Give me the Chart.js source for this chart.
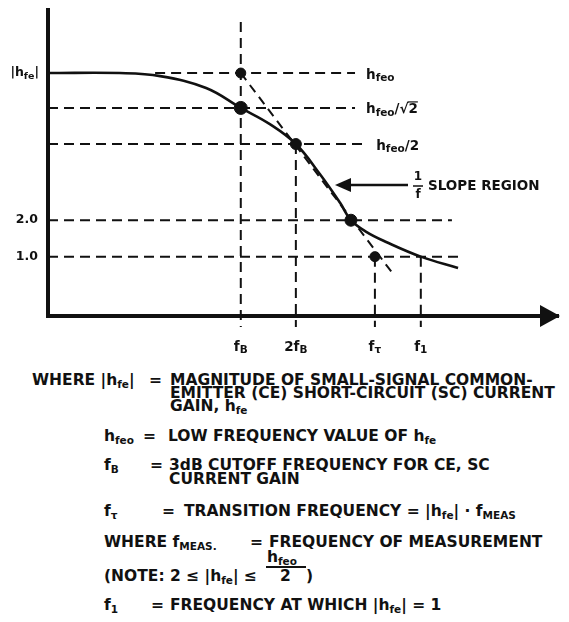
<!DOCTYPE html>
<html>
<head>
<meta charset="utf-8">
<script src="https://cdn.jsdelivr.net/npm/chart.js@4/dist/chart.umd.min.js"></script>
<style>
  html,body{margin:0;padding:0;background:#fff;}
  body{width:569px;height:622px;position:relative;overflow:hidden;}
  #c{position:absolute;left:0;top:0;}
  .t{position:absolute;font-family:"DejaVu Sans",sans-serif;font-weight:bold;font-size:15.5px;line-height:16px;white-space:nowrap;color:#111;}
  .t sub{font-size:10.5px;vertical-align:-3px;line-height:0;}
  .bar{position:absolute;border-top:2px solid #111;height:0;}
</style>
</head>
<body>
<canvas id="c" width="569" height="365"></canvas>

<div class="t" style="left:32px;top:372px">WHERE |h<sub>fe</sub>|</div>
<div class="t" style="left:149px;top:372px">=</div>
<div class="t" style="left:170px;top:372px">MAGNITUDE OF SMALL-SIGNAL COMMON-</div>
<div class="t" style="left:170px;top:385px">EMITTER (CE) SHORT-CIRCUIT (SC) CURRENT</div>
<div class="t" style="left:170px;top:398px">GAIN, h<sub>fe</sub></div>

<div class="t" style="left:104px;top:428px">h<sub>feo</sub></div>
<div class="t" style="left:143px;top:428px">=</div>
<div class="t" style="left:168px;top:428px">LOW FREQUENCY VALUE OF h<sub>fe</sub></div>

<div class="t" style="left:104px;top:457px">f<sub>B</sub></div>
<div class="t" style="left:150px;top:457px">=</div>
<div class="t" style="left:169px;top:457px">3dB CUTOFF FREQUENCY FOR CE, SC</div>
<div class="t" style="left:169px;top:471px">CURRENT GAIN</div>

<div class="t" style="left:104px;top:503px">f<sub>τ</sub></div>
<div class="t" style="left:162px;top:503px">=</div>
<div class="t" style="left:184px;top:503px">TRANSITION FREQUENCY = |h<sub>fe</sub>| · f<sub>MEAS</sub></div>

<div class="t" style="left:104px;top:534px">WHERE f<sub>MEAS.</sub></div>
<div class="t" style="left:250px;top:534px">=</div>
<div class="t" style="left:269px;top:534px">FREQUENCY OF MEASUREMENT</div>

<div class="t" style="left:104px;top:568px">(NOTE: 2 ≤ |h<sub>fe</sub>| ≤</div>
<div class="t" style="left:267px;top:549px">h<sub>feo</sub></div>
<div class="bar" style="left:266px;top:566px;width:40px"></div>
<div class="t" style="left:280px;top:568px">2</div>
<div class="t" style="left:306px;top:568px">)</div>

<div class="t" style="left:104px;top:597px">f<sub>1</sub></div>
<div class="t" style="left:151px;top:597px">=</div>
<div class="t" style="left:170px;top:597px">FREQUENCY AT WHICH |h<sub>fe</sub>| = 1</div>

<script>
// ---- data (arbitrary linear units) ----
const markerNames = ['fB', '2fB', 'fT', 'f1'];
const markerX = [37.8, 48.6, 64.1, 73.1];
const markerTop = [9.61, 5.62, 1.94, 1.94];
const markerBottom = -0.36;

const levelNames = ['hfeo', 'hfeo/√2', 'hfeo/2', '2.0', '1.0'];
const levelY = [7.94, 6.80, 5.62, 3.13, 1.94];
const levelStart = [21.0, 0, 0, 0, 0];
const levelEnd = [60.2, 60.2, 62.2, 79.2, 80.4];

const curveX = [0, 14.1, 22.0, 31.0, 37.8, 43.5, 48.6, 53.3, 57.3, 59.4, 62.4, 66.3, 73.1, 80.4];
const curveY = [7.94, 7.94, 7.84, 7.45, 6.80, 6.27, 5.62, 4.64, 3.69, 3.13, 2.75, 2.42, 1.94, 1.57];

const asymX = [37.8, 67.5];
const asymY = [7.94, 1.41];

const dotX = [37.8, 37.8, 48.6, 59.4, 64.1];
const dotY = [7.94, 6.80, 5.62, 3.13, 1.94];
const dotR = [5, 6.5, 5.5, 6, 5];

// ---- build datasets ----
const INK = '#111';
const pts = (xs, ys) => xs.map((x, i) => ({x, y: ys[i]}));
const datasets = [];
datasets.push({label: 'dots', data: pts(dotX, dotY), showLine: false,
  pointRadius: dotR, pointBackgroundColor: INK, pointBorderColor: INK, clip: false});
datasets.push({label: 'curve', data: pts(curveX, curveY), showLine: true,
  borderColor: INK, borderWidth: 2.6, pointRadius: 0, tension: 0.4, clip: false});
datasets.push({label: 'asymptote', data: pts(asymX, asymY), showLine: true,
  borderColor: INK, borderWidth: 2, borderDash: [9, 6], pointRadius: 0, clip: false});
levelY.forEach((y, i) => datasets.push({label: levelNames[i],
  data: [{x: levelStart[i], y}, {x: levelEnd[i], y}], showLine: true,
  borderColor: INK, borderWidth: 2, borderDash: [10, 6], pointRadius: 0, clip: false}));
markerX.forEach((x, i) => datasets.push({label: markerNames[i],
  data: [{x, y: markerTop[i]}, {x, y: markerBottom}], showLine: true,
  borderColor: INK, borderWidth: 2, borderDash: [10, 6], pointRadius: 0, clip: false}));

function rich(ctx, x, y, parts, align) {
  let w = 0;
  parts.forEach(p => { ctx.font = 'bold ' + p[1] + 'px "DejaVu Sans"'; w += ctx.measureText(p[0]).width; });
  let cx = align === 'center' ? x - w / 2 : (align === 'right' ? x - w : x);
  ctx.textAlign = 'left'; ctx.textBaseline = 'middle'; ctx.fillStyle = INK;
  const pos = [];
  parts.forEach(p => {
    ctx.font = 'bold ' + p[1] + 'px "DejaVu Sans"';
    const pw = ctx.measureText(p[0]).width;
    ctx.fillText(p[0], cx, y + (p[2] || 0));
    pos.push([cx, pw]);
    cx += pw;
  });
  return pos;
}

const labelPlugin = {
  id: 'labels',
  afterDraw(chart) {
    const ctx = chart.ctx, xs = chart.scales.x, ys = chart.scales.y, a = chart.chartArea;
    ctx.save();
    // axis arrowhead
    ctx.fillStyle = INK;
    ctx.beginPath();
    ctx.moveTo(a.right + 2, a.bottom);
    ctx.lineTo(a.right - 18, a.bottom - 11);
    ctx.lineTo(a.right - 18, a.bottom + 11);
    ctx.closePath(); ctx.fill();

    // y labels
    rich(ctx, 39, ys.getPixelForValue(levelY[0]), [['|h', 12.5], ['fe', 9.5, 3], ['|', 12.5]], 'right');
    rich(ctx, 38, ys.getPixelForValue(levelY[3]), [['2.0', 12.5]], 'right');
    rich(ctx, 38, ys.getPixelForValue(levelY[4]), [['1.0', 12.5]], 'right');

    // right level labels
    const lx0 = xs.getPixelForValue(levelEnd[0]) + 11;
    rich(ctx, lx0, ys.getPixelForValue(levelY[0]) + 2, [['h', 13.5], ['feo', 10.5, 3]], 'left');
    const p = rich(ctx, lx0, ys.getPixelForValue(levelY[1]) + 2, [['h', 13.5], ['feo', 10.5, 3], ['/√', 13.5], ['2', 13.5]], 'left');
    const last = p[3];
    const oy = ys.getPixelForValue(levelY[1]) + 2 - 8;
    ctx.strokeStyle = INK; ctx.lineWidth = 1.2;
    ctx.beginPath(); ctx.moveTo(last[0] - 1, oy); ctx.lineTo(last[0] + last[1], oy); ctx.stroke();
    const lx2 = xs.getPixelForValue(levelEnd[2]) + 11;
    rich(ctx, lx2, ys.getPixelForValue(levelY[2]) + 2, [['h', 13.5], ['feo', 10.5, 3], ['/2', 13.5]], 'left');

    // x labels
    const ly = a.bottom + 31;
    const xl = [[['f', 13.5], ['B', 10.5, 3]], [['2f', 13.5], ['B', 10.5, 3]], [['f', 13.5], ['τ', 10.5, 3]], [['f', 13.5], ['1', 10.5, 3]]];
    markerX.forEach((x, i) => rich(ctx, xs.getPixelForValue(x), ly, xl[i], 'center'));

    // slope region annotation
    const ay = 185, tip = 335, tail = 408;
    ctx.lineWidth = 2.5;
    ctx.beginPath(); ctx.moveTo(tail, ay); ctx.lineTo(tip + 12, ay); ctx.stroke();
    ctx.beginPath(); ctx.moveTo(tip, ay); ctx.lineTo(tip + 16, ay - 7); ctx.lineTo(tip + 16, ay + 7); ctx.closePath(); ctx.fill();
    rich(ctx, 418, ay - 8, [['1', 12]], 'center');
    ctx.lineWidth = 1.5;
    ctx.beginPath(); ctx.moveTo(413, ay + 1); ctx.lineTo(423, ay + 1); ctx.stroke();
    rich(ctx, 418, ay + 10, [['f', 12]], 'center');
    rich(ctx, 428, ay + 1, [['SLOPE REGION', 13.5]], 'left');
    ctx.restore();
  }
};

new Chart(document.getElementById('c'), {
  type: 'scatter',
  data: {datasets},
  options: {
    responsive: false,
    animation: false,
    layout: {padding: {left: 48, right: 11, top: 10, bottom: 49}},
    plugins: {legend: {display: false}, tooltip: {enabled: false}},
    scales: {
      x: {type: 'linear', min: 0, max: 100, ticks: {display: false},
          grid: {display: false, drawTicks: false}, border: {display: true, width: 4, color: INK}},
      y: {type: 'linear', min: 0, max: 10, ticks: {display: false},
          grid: {display: false, drawTicks: false}, border: {display: true, width: 4, color: INK}}
    }
  },
  plugins: [labelPlugin]
});
</script>
</body>
</html>
